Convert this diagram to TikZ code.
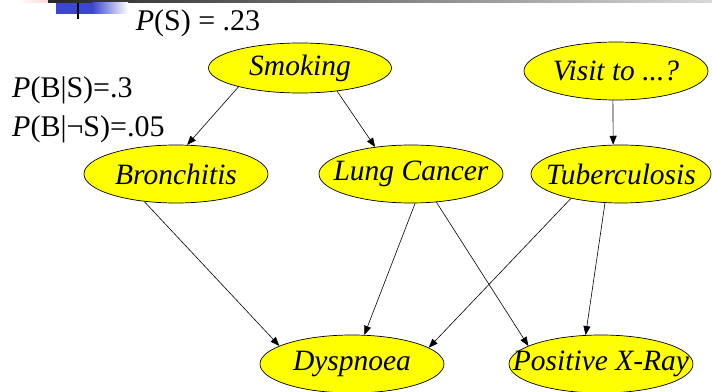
\documentclass[tikz,border=0pt]{standalone}
\usepackage{fontspec}
\setmainfont{Liberation Serif}
\usepackage{tikz}
\usetikzlibrary{arrows.meta, shapes.geometric}
\usepackage{xcolor}
\definecolor{cNode}{HTML}{FFFF00}
\definecolor{cHead}{HTML}{3C46D2}

\begin{document}
\begin{tikzpicture}[x=1pt, y=1pt,
  var/.style={ellipse, draw, fill=cNode, line width=0.7pt, inner xsep=-28pt, inner ysep=0pt,
    minimum width=184pt, minimum height=58pt, font=\fontsize{29.5}{31}\selectfont\itshape},
  lbl/.style={font=\fontsize{30}{32}\selectfont, inner sep=0pt},
  arr/.style={-{Triangle[length=9pt, width=7pt]}, line width=0.6pt}
]
\useasboundingbox (0,0) rectangle (712,391);

\shade[left color=white, right color=red!15] (16,391) rectangle (48,388);
\shade[left color=black!85, right color=black!15] (48,391) rectangle (712,388);
\fill[cHead] (56,388) rectangle (92,377);
\shade[left color=cHead, right color=white] (92,388) rectangle (128,377);
\draw[line width=2.5pt] (78,388) -- (78,372);

\node[var, minimum width=183pt, minimum height=50pt] (smoke) at (300,323) {Smoking};
\node[var] (visit) at (616,320) {Visit to ...?};
\node[var] (bron) at (176,217) {Bronchitis};
\node[var] (lung) at (411,217) {Lung Cancer};
\node[var, minimum width=180pt] (tub) at (621,217) {Tuberculosis};
\node[var] (dysp) at (352,27) {Dyspnoea};
\node[var] (xray) at (601,27) {Positive X-Ray};

\node[lbl] (ps) at (198,368) {\textit{P}(S) = .23};
\node[lbl, anchor=west] (pbs) at (12,301) {\textit{P}(B|S)=.3};
\node[lbl, anchor=west] (pbns) at (12,262) {\textit{P}(B|¬S)=.05};

\draw[arr] (smoke.197) -- (bron.69);
\draw[arr] (smoke.328) -- (lung.143);
\draw[arr] (visit.264) -- (tub.105);
\draw[arr] (bron.221) -- (dysp.166);
\draw[arr] (lung.278) -- (dysp.67);
\draw[arr] (lung.312) -- (xray.166);
\draw[arr] (tub.206) -- (dysp.12);
\draw[arr] (tub.241) -- (xray.118);
\end{tikzpicture}
\end{document}
